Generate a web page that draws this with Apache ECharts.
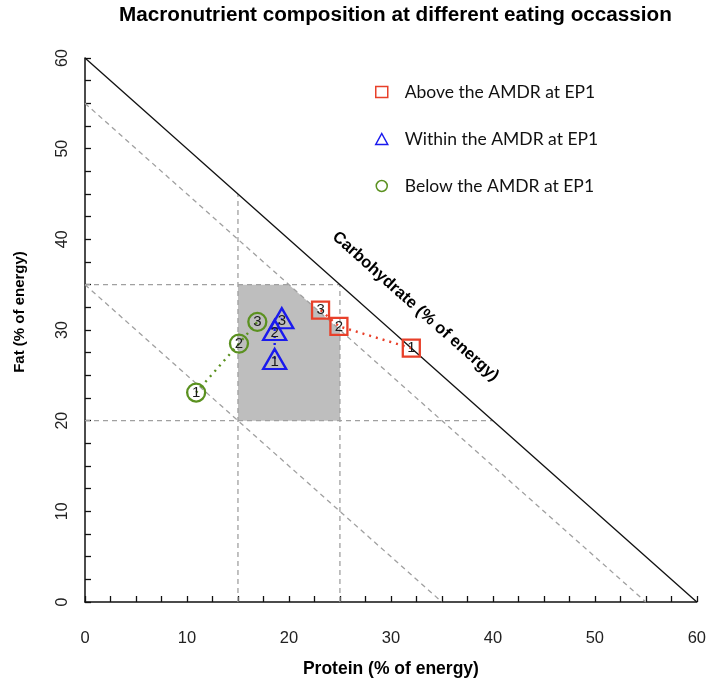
<!DOCTYPE html>
<html><head><meta charset="utf-8">
<script src="https://cdn.jsdelivr.net/npm/echarts@6/dist/echarts.min.js"></script>
<style>html,body{margin:0;padding:0;background:#fff}#c{width:709px;height:690px}</style>
</head><body><div id="c"></div>
<script>
// ---- text ----
const chartTitle = 'Macronutrient composition at different eating occassion';
const xName = 'Protein (% of energy)';
const yName = 'Fat (% of energy)';
const carbLabel = 'Carbohydrate (% of energy)';
const seriesNames = ['Above the AMDR at EP1', 'Within the AMDR at EP1', 'Below the AMDR at EP1'];
const episodes = ['1', '2', '3'];
// ---- axis ----
const axisMin = 0, axisMax = 60, axisStep = 10;
// ---- data (protein %, fat %) for eating occasions 1..3 ----
const aboveProtein = [32.0, 24.9, 23.1];
const aboveFat = [28.0, 30.4, 32.2];
const withinProtein = [18.6, 18.6, 19.3];
const withinFat = [26.8, 30.0, 31.3];
const belowProtein = [10.9, 15.1, 16.9];
const belowFat = [23.1, 28.5, 30.9];
// ---- AMDR region (protein 15-25, fat 20-35, carbohydrate >= 45) ----
const amdrProtein = [15, 25, 25, 20, 15];
const amdrFat = [20, 20, 30, 35, 35];
// ---- reference lines: first is carbohydrate 40 %, rest dashed guides ----
const refProtein = [[0, 60], [0, 55], [0, 35], [15, 15], [25, 25], [0, 25], [0, 40]];
const refFat = [[60, 0], [55, 0], [35, 0], [0, 45], [0, 35], [35, 35], [20, 20]];
// anchor for carbohydrate label (protein, fat)
const carbLabelAnchor = [32.4, 32.6];

const RED = '#e8402a', BLUE = '#1a1aee', GREEN = '#5b9120';
const zip = (a, b) => a.map((v, i) => [v, b[i]]);

const chart = echarts.init(document.getElementById('c'), null, {renderer: 'canvas'});

const refSeries = refProtein.map((px, i) => ({
  type: 'line', data: zip(px, refFat[i]), symbol: 'none', silent: true,
  lineStyle: i === 0 ? {color: '#111', width: 1.3, type: 'solid'} : {color: '#a0a0a0', width: 1.3, type: [5, 4]},
  z: i === 0 ? 3 : 2
}));

function pointSeries(name, px, fy, color, symbol, size, labelOffset) {
  return {
    type: 'line', name: name, data: zip(px, fy), symbol: symbol, symbolSize: size,
    showAllSymbol: true,
    itemStyle: {color: 'rgba(255,255,255,0)', borderColor: color, borderWidth: 2.3},
    lineStyle: {color: color, width: 2.4, type: [2, 5]},
    label: {show: true, position: 'inside', offset: labelOffset, color: '#1a1a1a', fontSize: 15,
      fontFamily: 'Liberation Sans', formatter: p => episodes[p.dataIndex]},
    z: 6
  };
}

chart.setOption({
  animation: false,
  title: {text: chartTitle, left: 114, top: 0,
    textStyle: {fontFamily: 'Liberation Sans', fontWeight: 'bold', fontSize: 20.7, color: '#000'}},
  grid: {left: 85, right: 12, top: 58, bottom: 88},
  legend: {
    orient: 'vertical', left: 370, top: 78, itemGap: 29, itemWidth: 12, itemHeight: 11,
    textStyle: {fontFamily: 'Lato', fontSize: 17.5, color: '#111', padding: [0, 0, 0, 12]},
    data: [
      {name: seriesNames[0], icon: 'rect', itemStyle: {color: 'rgba(255,255,255,0)', borderColor: RED, borderWidth: 1.5}},
      {name: seriesNames[1], icon: 'triangle', itemStyle: {color: 'rgba(255,255,255,0)', borderColor: BLUE, borderWidth: 1.5}},
      {name: seriesNames[2], icon: 'circle', itemStyle: {color: 'rgba(255,255,255,0)', borderColor: GREEN, borderWidth: 1.5}}
    ]
  },
  xAxis: {
    type: 'value', min: axisMin, max: axisMax, interval: axisStep,
    name: xName, nameLocation: 'middle', nameGap: 58,
    nameTextStyle: {fontFamily: 'Liberation Sans', fontWeight: 'bold', fontSize: 17.5, color: '#000'},
    axisLine: {show: true, lineStyle: {color: '#111', width: 1.5}},
    axisTick: {show: true, inside: true, length: 6, lineStyle: {color: '#111', width: 1.3}},
    minorTick: {show: true, splitNumber: 4, length: 6, lineStyle: {color: '#111', width: 1.3}},
    splitLine: {show: false},
    axisLabel: {margin: 28, fontFamily: 'Liberation Sans', fontSize: 16.5, color: '#222'}
  },
  yAxis: {
    type: 'value', min: axisMin, max: axisMax, interval: axisStep,
    name: yName, nameLocation: 'middle', nameGap: 58,
    nameTextStyle: {fontFamily: 'Liberation Sans', fontWeight: 'bold', fontSize: 15, color: '#000', padding: [0, 0, 0, 36]},
    axisLine: {show: true, lineStyle: {color: '#111', width: 1.5}},
    axisTick: {show: true, inside: true, length: 6, lineStyle: {color: '#111', width: 1.3}},
    minorTick: {show: true, splitNumber: 4, length: 6, lineStyle: {color: '#111', width: 1.3}},
    splitLine: {show: false},
    axisLabel: {rotate: 90, margin: 14, fontFamily: 'Liberation Sans', fontSize: 16, color: '#222'}
  },
  series: [
    {
      type: 'custom', silent: true, z: 1, clip: true,
      data: zip(amdrProtein, amdrFat),
      renderItem: (params, api) => {
        if (params.dataIndex !== 0) return null;
        const pts = amdrProtein.map((p, i) => api.coord([p, amdrFat[i]]));
        return {type: 'polygon', shape: {points: pts}, style: {fill: '#bebebe'}};
      }
    },
    ...refSeries,
    {
      type: 'scatter', data: [carbLabelAnchor], symbolSize: 0, silent: true, z: 4,
      itemStyle: {opacity: 1},
      label: {show: true, position: 'inside', rotate: -41.6, formatter: carbLabel,
        fontFamily: 'Liberation Sans', fontWeight: 'bold', fontSize: 16.5, color: '#000', opacity: 1}
    },
    pointSeries(seriesNames[0], aboveProtein, aboveFat, RED, 'rect', 17, [0, 0]),
    pointSeries(seriesNames[1], withinProtein, withinFat, BLUE, 'triangle', [23, 20], [0, 3]),
    pointSeries(seriesNames[2], belowProtein, belowFat, GREEN, 'circle', 18, [0, 0])
  ]
});
</script></body></html>
